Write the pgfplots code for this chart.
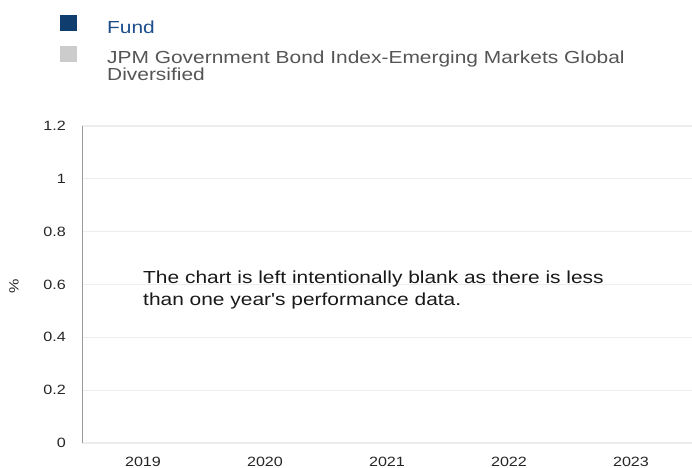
\documentclass[border=0pt]{standalone}
\usepackage{pgfplots}
\pgfplotsset{compat=1.18}
\usepackage{fontspec}
\setmainfont{Liberation Sans}
\usepackage{graphicx}

\definecolor{fundblue}{HTML}{0E3D6E}
\definecolor{fundtext}{HTML}{1D4F8C}
\definecolor{benchgrey}{HTML}{CCCCCC}
\definecolor{labgrey}{HTML}{555555}
\definecolor{gridgrey}{HTML}{EDEDED}
\definecolor{axisgrey}{HTML}{9A9A9A}
% the reference text is a little stretched sideways
\newcommand\wide[1]{\scalebox{1.2}[1]{#1}}
% two lines, baseline on the first one
\newcommand\twolines[3]{\vtop{\baselineskip=#1\hbox{\wide{#2}}\hbox{\wide{#3}}}}

\begin{document}
\begin{tikzpicture}
\useasboundingbox (0,0) rectangle (692bp,-468bp);
\begin{axis}[
    at={(82bp,-443bp)}, anchor=south west,
    scale only axis, width=610bp, height=317bp,
    xmin=-0.5, xmax=4.5,
    ymin=0, ymax=1.2,
    xtick={0,1,2,3,4},
    xticklabels={\wide{2019},\wide{2020},\wide{2021},\wide{2022},\wide{2023}},
    ytick={0,0.2,0.4,0.6,0.8,1,1.2},
    /pgf/number format/assume math mode=true,
    yticklabel={\wide{\pgfmathprintnumber{\tick}}},
    axis x line*=bottom, axis y line*=left,
    x axis line style={-, gridgrey, line width=1.5bp},
    y axis line style={-, axisgrey, line width=0.8bp},
    major tick length=0,
    ymajorgrids, grid style={gridgrey, line width=1.3bp},
    tick label style={font=\fontsize{13.5}{14}\selectfont, text=black!85, inner sep=0},
    yticklabel style={anchor=east, xshift=-16bp},
    xticklabel style={anchor=north, yshift=-14bp},
    ylabel={\wide{\%}},
    every axis y label/.style={at={(rel axis cs:-0.1115,0.4953)}, rotate=90, anchor=center,
        font=\fontsize{13.5}{14}\selectfont, text=black!85},
    legend image code/.code={\fill[#1] (0bp,2bp) rectangle (17bp,18bp);},
    legend style={at={(rel axis cs:-0.0361,1.3502)}, anchor=north west,
        draw=none, fill=none, inner sep=0, row sep=11bp, column sep=30bp,
        cells={anchor=base west},
        nodes={inner sep=0, text=labgrey},
        font=\fontsize{17.5}{16}\selectfont},
]
\addlegendimage{fill=fundblue, draw=none}
\addlegendentry[text=fundtext]{\wide{Fund}}
\addlegendimage{fill=benchgrey, draw=none}
\addlegendentry{\twolines{16bp}{JPM Government Bond Index-Emerging Markets Global}{Diversified}}

\node[anchor=base west, inner sep=0, text=black!90,
      font=\fontsize{17.5}{22}\selectfont]
    at (rel axis cs:0.1,0.5047)
    {\twolines{22bp}{The chart is left intentionally blank as there is less}%
        {than one year\textquotesingle s performance data.}};
\end{axis}
\end{tikzpicture}
\end{document}
